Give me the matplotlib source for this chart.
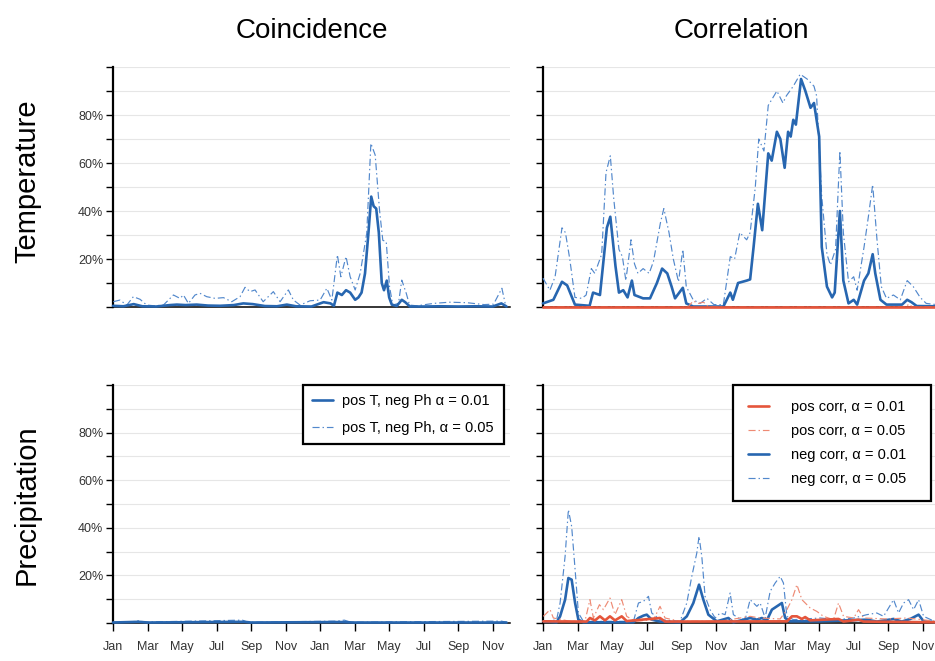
import matplotlib
matplotlib.use("Agg")
import matplotlib.pyplot as plt
from matplotlib.ticker import FixedLocator, FuncFormatter

plt.rcParams['font.family'] = ['Liberation Sans', 'DejaVu Sans']

# ---------------- data (months since Jan of year 1, percent) ----------------
month_ticks = list(range(0, 24, 2))
month_labels = ["Jan", "Mar", "May", "Jul", "Sep", "Nov",
                "Jan", "Mar", "May", "Jul", "Sep", "Nov"]
y_ticks = list(range(0, 101, 10))
y_labelled = [20, 40, 60, 80]

# Coincidence / Temperature
coinT_01_m = [0, 0.6, 1.2, 1.7, 2.5, 3.3, 3.7, 4.2, 4.85, 5.5, 6.2, 7.0, 7.55, 8.1, 8.8, 9.5,
              10.07, 10.6, 11.5, 12.2, 12.6, 12.8, 13.0, 13.26, 13.5, 13.74, 14.03, 14.22, 14.4,
              14.6, 14.8, 14.96, 15.1, 15.25, 15.4, 15.57, 15.7, 15.86, 16.0, 16.15, 16.44, 16.73,
              16.93, 17.2, 18.0, 19.0, 20.0, 21.0, 22.0, 22.5, 22.8]
coinT_01_v = [0.5, 0.3, 1.2, 0.3, 0.2, 0.8, 1.0, 0.8, 1.0, 0.6, 0.5, 0.8, 1.5, 1.2, 0.4, 0.3,
              1.0, 0.3, 0.2, 2.0, 1.5, 0.5, 6.0, 5.0, 7.0, 6.0, 3.0, 4.0, 6.0,
              14.0, 31.0, 46.0, 42.0, 41.0, 31.0, 10.0, 7.0, 11.0, 4.0, 1.0, 0.4, 3.0,
              2.0, 0.2, 0.2, 0.3, 0.2, 0.3, 0.2, 1.5, 0.2]
coinT_05_m = [0.02, 0.4, 0.8, 1.18, 1.57, 1.95, 2.4, 2.92, 3.5, 3.88, 4.08, 4.37, 4.75, 5.04, 5.43,
              5.91, 6.4, 6.88, 7.36, 7.65, 7.94, 8.23, 8.7, 9.29, 9.68, 10.16, 10.45, 10.84, 11.42,
              12.0, 12.39, 12.68, 13.0, 13.2, 13.5, 13.74, 14.03, 14.32, 14.7, 14.94, 15.19, 15.44,
              15.63, 15.83, 16.02, 16.21, 16.54, 16.73, 16.99, 17.18, 17.6, 18.57, 19.5, 20.5,
              21.5, 22.05, 22.53, 22.72]
coinT_05_v = [2.2, 2.9, 0.8, 4.3, 3.2, 0.8, 0.5, 0.8, 5.0, 3.6, 5.0, 1.5, 5.0, 5.7, 4.3,
              3.6, 3.9, 2.2, 4.3, 8.2, 6.4, 7.1, 2.2, 6.4, 2.2, 7.1, 2.9, 0.8, 2.6,
              2.9, 7.8, 2.9, 21.7, 12.6, 21.0, 12.6, 7.1, 14.0, 30.7, 68.2, 63.3, 40.4,
              27.8, 27.2, 8.5, 0.8, 1.5, 11.2, 5.7, 0.8, 0.5, 1.5, 2.0, 1.8,
              1.0, 1.2, 7.8, 1.5]

# Correlation / Temperature
corrT_neg01_m = [0, 0.6, 1.1, 1.4, 1.85, 2.7, 2.9, 3.3, 3.7, 3.9, 4.2, 4.4, 4.65, 4.9, 5.15, 5.3,
                 5.8, 6.2, 6.6, 6.9, 7.2, 7.45, 7.65, 8.1, 8.3, 8.7, 10.45, 10.85, 11.0, 11.3,
                 11.8, 12.0, 12.2, 12.45, 12.7, 13.05, 13.25, 13.55, 13.75, 14.0, 14.2, 14.35,
                 14.5, 14.65, 14.95, 15.2, 15.5, 15.7, 16.0, 16.15, 16.45, 16.75, 16.9, 17.2,
                 17.4, 17.7, 18.0, 18.2, 18.6, 18.85, 19.1, 19.25, 19.55, 19.9, 20.8, 21.1,
                 21.35, 21.65, 22.8]
corrT_neg01_v = [1.5, 3, 10.5, 9, 1, 0.5, 6, 5, 33, 37.6, 17, 6, 7, 4, 11, 5,
                 3.6, 3.6, 10, 16, 14, 8.5, 3.6, 8, 1.5, 0.2, 0.2, 6, 3, 10,
                 11, 11.5, 25, 43, 32, 64, 61, 73, 70, 58, 73, 71,
                 78, 76, 95, 90, 83, 85, 71, 25, 8.5, 4, 6, 40,
                 11, 1.5, 3, 1, 11, 14, 22, 14, 3, 1, 1, 3,
                 2, 0.4, 0.3]
corrT_neg05_m = [0, 0.4, 0.7, 1.1, 1.3, 1.55, 1.85, 2.25, 2.5, 2.8, 3.0, 3.4, 3.65, 3.9, 4.1, 4.4,
                 4.6, 4.8, 5.1, 5.3, 5.5, 5.8, 6.15, 6.4, 6.8, 7.0, 7.3, 7.55, 7.85, 8.1, 8.3,
                 8.7, 9.1, 9.5, 9.9, 10.45, 10.85, 11.1, 11.4, 11.8, 12.0, 12.3, 12.5, 12.8,
                 13.05, 13.55, 13.9, 14.1, 14.5, 14.9, 15.3, 15.7, 15.85, 16.15, 16.45, 16.65,
                 16.95, 17.2, 17.4, 17.7, 18.0, 18.2, 18.6, 18.85, 19.1, 19.35, 19.6, 19.9,
                 20.3, 20.7, 21.1, 21.45, 21.85, 22.2, 22.8]
corrT_neg05_v = [12, 7, 12.6, 33, 31, 20, 4, 3.6, 5, 16, 14, 22, 56, 63, 45, 24,
                 21, 11, 28, 18, 14, 16, 14, 19, 35, 41, 31, 20, 10.5, 24, 8.5,
                 3, 1.5, 3.6, 1, 1, 21, 20, 31, 28, 31, 50, 70, 65,
                 84, 90, 85, 88, 92, 97, 95, 92, 88, 46, 22, 17.5,
                 24, 65, 31, 10.5, 12.6, 7, 25, 37.6, 51, 28, 8.5, 3.6,
                 5, 3, 11, 8.5, 4, 1.5, 1]
corrT_pos01_m = [0, 22.8]
corrT_pos01_v = [0, 0]
corrT_pos05_m = [0, 8.4, 8.7, 9.0, 9.3, 9.6, 21.0, 21.2, 21.4, 22.8]
corrT_pos05_v = [0, 0, 2.5, 1.5, 2.0, 0, 0, 1.2, 0, 0]

# Coincidence / Precipitation
coinP_01_m = [0, 1.5, 2.0, 7.6, 8.0, 13.2, 14.0, 22.8]
coinP_01_v = [0.2, 0.5, 0.2, 0.5, 0.2, 0.4, 0.2, 0.2]
coinP_05_m = [0, 1.2, 1.5, 1.8, 7.5, 7.8, 13.0, 13.4, 13.8, 16.5, 22.5, 22.8]
coinP_05_v = [0.3, 0.6, 1.0, 0.4, 1.2, 0.3, 0.8, 1.2, 0.3, 0.5, 0.8, 0.3]

# Correlation / Precipitation
corrP_neg01_m = [0.02, 0.79, 0.99, 1.28, 1.47, 1.66, 1.86, 2.05, 2.34, 5.24, 5.53, 5.82, 6.01, 6.3,
                 6.78, 7.94, 8.33, 8.71, 9.04, 9.29, 9.58, 10.07, 10.74, 11.03, 12.0, 12.39,
                 12.68, 12.97, 13.26, 13.55, 13.84, 14.03, 14.32, 16.06, 18.76, 19.34, 20.31,
                 20.79, 21.28, 21.76, 22.05, 22.8]
corrP_neg01_v = [0.7, 0.3, 2.8, 9.8, 18.9, 18.2, 8.4, 1.4, 0.3, 0.3, 2.1, 3.1, 3.5, 1.4,
                 0.6, 0.3, 2.8, 8.4, 16.1, 9.8, 3.5, 0.7, 2.1, 0.3, 2.1, 1.4,
                 2.1, 1.1, 5.6, 7.0, 8.4, 2.1, 0.7, 0.7, 1.4, 0.6, 1.7,
                 0.6, 1.7, 3.5, 0.7, 0.3]
corrP_neg05_m = [0.02, 0.79, 0.99, 1.28, 1.47, 1.66, 1.86, 2.05, 2.34, 5.24, 5.53, 5.82, 6.11, 6.3,
                 6.78, 7.94, 8.33, 8.62, 8.91, 9.04, 9.2, 9.39, 9.68, 9.97, 10.26, 10.55, 10.84,
                 11.03, 11.32, 11.71, 12.0, 12.39, 12.58, 12.87, 13.16, 13.45, 13.74, 13.93,
                 14.13, 14.51, 16.06, 17.02, 18.0, 18.76, 19.34, 19.73, 20.31, 20.6, 20.89,
                 21.18, 21.47, 21.76, 22.05, 22.8]
corrP_neg05_v = [0.3, 1.4, 8.4, 28, 47.6, 40.6, 22.4, 4.2, 0.7, 0.7, 8.4, 9.1, 11.2, 4.2,
                 1.4, 0.7, 8.4, 19.6, 29.4, 36.4, 28, 11.2, 5.6, 2.1, 4.2, 3.5, 12.6,
                 3.5, 2.1, 1.4, 9.8, 7.0, 8.4, 2.1, 13.3, 16.8, 19.6, 16.8,
                 2.8, 1.4, 2.1, 1.4, 2.1, 3.5, 4.2, 2.8, 9.8, 4.2, 8.4,
                 9.8, 5.6, 9.8, 2.8, 0.3]
corrP_pos01_m = [0.02, 2.53, 2.72, 3.01, 3.3, 3.59, 3.88, 4.17, 4.56, 4.85, 6.78, 7.07, 14.13,
                 14.42, 14.71, 15.0, 15.19, 15.48, 17.12, 17.41, 18.28, 18.57, 22.8]
corrP_pos01_v = [0.7, 0.6, 2.1, 1.1, 2.8, 1.1, 2.8, 1.1, 2.8, 0.8, 2.1, 0.6, 0.7,
                 2.8, 2.8, 1.7, 2.5, 1.1, 1.7, 0.6, 1.4, 0.6, 0.3]
corrP_pos05_m = [0.02, 0.41, 0.6, 1.57, 2.43, 2.72, 2.92, 3.27, 3.5, 3.88, 4.17, 4.56, 4.85, 5.33,
                 6.4, 6.78, 7.07, 7.94, 10.26, 12.0, 12.58, 13.74, 14.13, 14.42, 14.71, 15.0,
                 15.48, 15.86, 16.25, 16.83, 17.12, 17.41, 18.0, 18.28, 18.57, 19.92, 21.08, 22.8]
corrP_pos05_v = [2.8, 5.6, 2.1, 0.7, 0.7, 9.8, 2.1, 7.7, 5.6, 10.5, 3.5, 9.8, 2.8, 0.7,
                 1.4, 7.0, 2.1, 0.7, 0.7, 2.8, 2.1, 1.7, 5.6, 9.8, 16.1, 9.8,
                 6.3, 4.9, 2.8, 1.4, 8.4, 2.8, 2.1, 5.6, 2.1, 1.7, 2.1, 0.7]

# ---------------- styles ----------------
BLUE = "#2766b0"
BLUE_L = "#5288cc"
RED = "#e5553b"
RED_L = "#ee8a74"
GRID = "#e6e6e6"
DASHDOT = (0, (6, 2.5, 1.2, 2.5))
LW_SOLID = 1.9
LW_DASH = 0.85

W, H = 935.0, 661.0
aw = 397 / W

fig = plt.figure(figsize=(9.35, 6.61), dpi=100)
ax_tl = fig.add_axes([113 / W, (H - 307) / H, aw, 240 / H])
ax_tr = fig.add_axes([543 / W, (H - 307) / H, aw, 240 / H])
ax_bl = fig.add_axes([113 / W, (H - 623) / H, aw, 238 / H])
ax_br = fig.add_axes([543 / W, (H - 623) / H, aw, 238 / H])


def style(ax, bottom_row, ylabels):
    ax.set_xlim(0, 23)
    ax.set_ylim(0, 100)
    for s in ("top", "right"):
        ax.spines[s].set_visible(False)
    ax.spines["left"].set_linewidth(1.6)
    ax.spines["left"].set_color("black")
    ax.spines["bottom"].set_linewidth(1.1)
    ax.spines["bottom"].set_color("black")
    ax.yaxis.set_major_locator(FixedLocator(y_ticks))
    ax.yaxis.set_major_formatter(FuncFormatter(
        lambda v, p: f"{int(round(v))}%" if int(round(v)) in y_labelled else ""))
    ax.tick_params(axis="y", length=5, width=1.0, direction="out", pad=2,
                   labelsize=9, labelcolor="#333333", labelleft=ylabels)
    ax.xaxis.set_major_locator(FixedLocator(month_ticks))
    ax.xaxis.set_minor_locator(FixedLocator([4, 8, 12, 16, 20]))
    if bottom_row:
        ax.set_xticklabels(month_labels)
        ax.tick_params(axis="x", which="major", length=6, width=1.0, direction="out",
                       pad=7, labelsize=9, labelcolor="#333333")
    else:
        ax.tick_params(axis="x", which="major", length=0, labelbottom=False)
    ax.tick_params(axis="x", which="minor", length=0)
    ax.grid(False)
    ax.yaxis.grid(True, which="major", color=GRID, linewidth=0.8)
    ax.xaxis.grid(True, which="minor", color=GRID, linewidth=0.8)
    ax.set_axisbelow(True)


for ax, br, yl in ((ax_tl, False, True), (ax_tr, False, False),
                   (ax_bl, True, True), (ax_br, True, False)):
    style(ax, br, yl)

kw = dict(clip_on=False, zorder=3, solid_joinstyle="round", solid_capstyle="round",
          dash_joinstyle="round")

# Coincidence temperature
ax_tl.plot(coinT_05_m, coinT_05_v, color=BLUE_L, lw=LW_DASH, linestyle=DASHDOT, **kw)
ax_tl.plot(coinT_01_m, coinT_01_v, color=BLUE, lw=LW_SOLID, **kw)

# Correlation temperature
ax_tr.plot(corrT_neg05_m, corrT_neg05_v, color=BLUE_L, lw=LW_DASH, linestyle=DASHDOT, **kw)
ax_tr.plot(corrT_neg01_m, corrT_neg01_v, color=BLUE, lw=LW_SOLID, **kw)
ax_tr.plot(corrT_pos05_m, corrT_pos05_v, color=RED_L, lw=LW_DASH, linestyle=DASHDOT, **kw)
ax_tr.plot(corrT_pos01_m, corrT_pos01_v, color=RED, lw=LW_SOLID, **kw)

# Coincidence precipitation
l05, = ax_bl.plot(coinP_05_m, coinP_05_v, color=BLUE_L, lw=LW_DASH, linestyle=DASHDOT, **kw)
l01, = ax_bl.plot(coinP_01_m, coinP_01_v, color=BLUE, lw=LW_SOLID, **kw)
ax_bl.legend([l01, l05], ["pos T, neg Ph \u03b1 = 0.01", "pos T, neg Ph, \u03b1 = 0.05"],
             loc="upper left", bbox_to_anchor=(0.4786, 0.0, 0.506, 1.0), mode="expand",
             borderaxespad=0, fontsize=10.5, frameon=True, fancybox=False,
             edgecolor="black", framealpha=1, borderpad=0.65, labelspacing=0.85,
             handlelength=1.4, handletextpad=0.6)
ax_bl.get_legend().get_frame().set_linewidth(1.6)

# Correlation precipitation
n05, = ax_br.plot(corrP_neg05_m, corrP_neg05_v, color=BLUE_L, lw=LW_DASH, linestyle=DASHDOT, **kw)
n01, = ax_br.plot(corrP_neg01_m, corrP_neg01_v, color=BLUE, lw=LW_SOLID, **kw)
p05, = ax_br.plot(corrP_pos05_m, corrP_pos05_v, color=RED_L, lw=LW_DASH, linestyle=DASHDOT, **kw)
p01, = ax_br.plot(corrP_pos01_m, corrP_pos01_v, color=RED, lw=LW_SOLID, **kw)
ax_br.legend([p01, p05, n01, n05],
             ["pos corr, \u03b1 = 0.01", "pos corr, \u03b1 = 0.05",
              "neg corr, \u03b1 = 0.01", "neg corr, \u03b1 = 0.05"],
             loc="upper left", bbox_to_anchor=(0.4786, 0.0, 0.4985, 1.0), mode="expand",
             borderaxespad=0, fontsize=10.5, frameon=True, fancybox=False,
             edgecolor="black", framealpha=1, borderpad=1.05, labelspacing=0.68,
             handlelength=1.4, handletextpad=1.5)
ax_br.get_legend().get_frame().set_linewidth(1.6)

# Titles and row labels
ax_tl.set_title("Coincidence", fontsize=20, pad=21)
ax_tr.set_title("Correlation", fontsize=20, pad=21)
fig.text(27 / W, 1 - 181 / H, "Temperature", rotation=90, fontsize=21,
         ha="center", va="center")
fig.text(27 / W, 1 - 505 / H, "Precipitation", rotation=90, fontsize=21,
         ha="center", va="center")

fig.savefig("out.png", dpi=100)
